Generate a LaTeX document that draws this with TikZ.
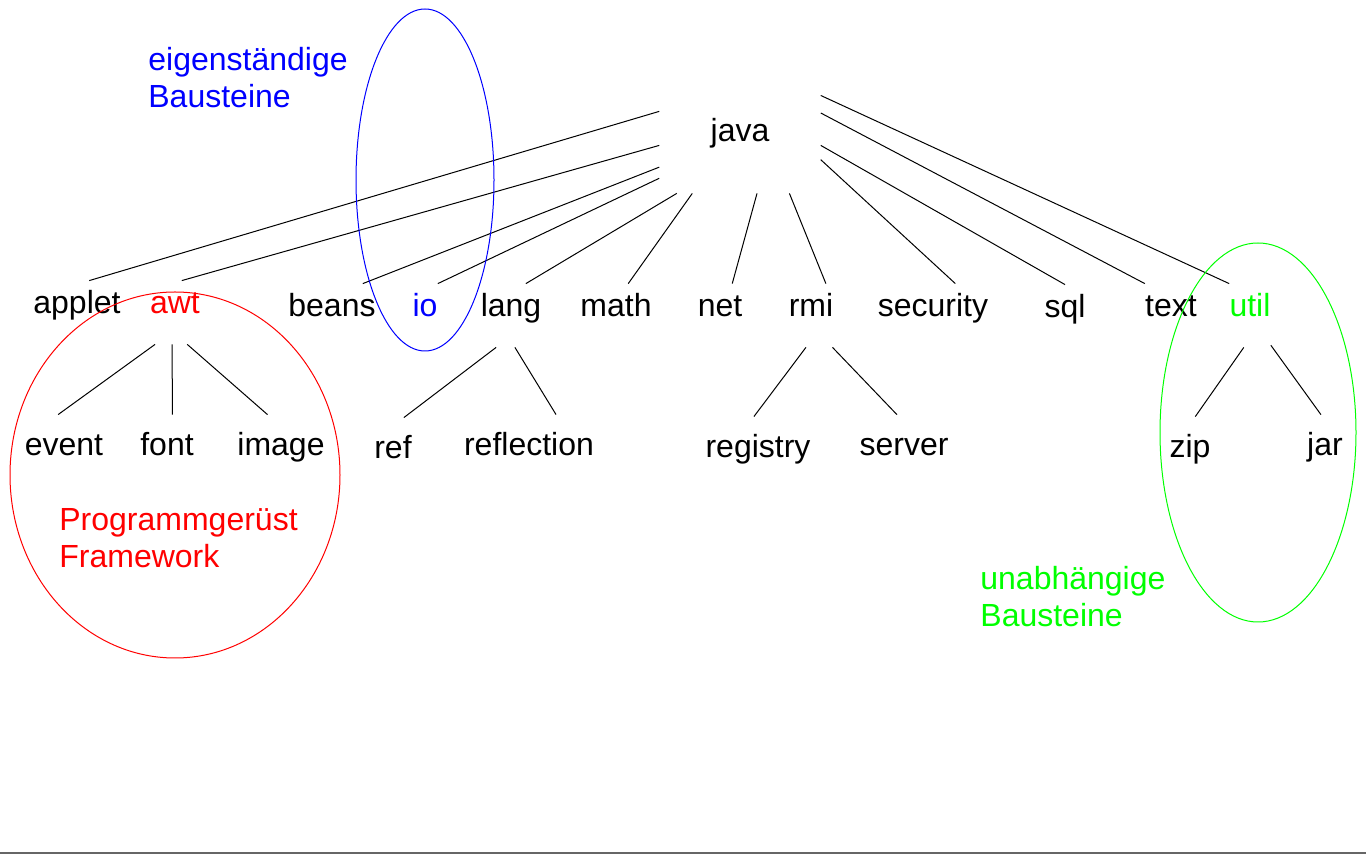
\documentclass[tikz,border=0pt]{standalone}
\usepackage{fontspec}
\setmainfont{Liberation Sans}
\usepackage{xcolor}
\definecolor{Own}{HTML}{0000FF}
\definecolor{Frame}{HTML}{FF0000}
\definecolor{Indep}{HTML}{00FF00}
\definecolor{Rule}{HTML}{666666}
\usetikzlibrary{positioning}
\tikzset{
  pkg/.style={inner sep=0pt,anchor=base,text height=16.5pt,text depth=15pt,
    font=\fontsize{16}{18.5}\selectfont},
  subpkg/.style={pkg,text height=20.5pt,text depth=12.5pt},
  root/.style={pkg,text height=23.5pt,text depth=25.5pt,inner xsep=25.5pt},
  tie/.style={draw=black,line width=0.5pt},
  hull/.style={line width=0.5pt},
  tag/.style={inner sep=0pt,anchor=base west,align=left,
    font=\fontsize{16}{18.5}\selectfont}
}

\begin{document}
\begin{tikzpicture}[x=0.5pt,y=-0.5pt]
  \useasboundingbox (0,0) rectangle (1366,854);
  \node[root] (java) at (740,142) {java};
  % first level
  \node[pkg] (applet) at (77,314) {applet};
  \node[pkg,text=Frame] (awt) at (175,314) {awt};
  \node[pkg] (beans) at (332,317) {beans};
  \node[pkg,text=Own] (io) at (425,317) {io};
  \node[pkg] (lang) at (511,317) {lang};
  \node[pkg] (math) at (616,317) {math};
  \node[pkg] (net) at (720,317) {net};
  \node[pkg] (rmi) at (811,317) {rmi};
  \node[pkg] (security) at (933,317) {security};
  \node[pkg] (sql) at (1065,318) {sql};
  \node[pkg] (txt) at (1171,317) {text};
  \node[pkg,text=Indep] (util) at (1250,317) {util};
  % second level
  \node[subpkg] (event) at (64,456) {event};
  \node[subpkg] (font) at (167,456) {font};
  \node[subpkg] (image) at (281,456) {image};
  \node[subpkg] (ref) at (393,459) {ref};
  \node[subpkg] (reflection) at (529,456) {reflection};
  \node[subpkg] (registry) at (758,458) {registry};
  \node[subpkg] (server) at (904,456) {server};
  \node[subpkg] (zip) at (1190,458) {zip};
  \node[subpkg] (jar) at (1325,456) {jar};
  % connectors
  \foreach \a/\n/\b in {158/applet/69, 181/awt/78, 196/beans/46,
      203/io/north east, 218/lang/65, 226/math/69, 289/net/69, 315/rmi/65,
      349/security/55, 359/sql/north, 21/txt/north west, 31/util/north west}
    \draw[tie] (java.\a) -- (\n.\b);
  \foreach \p/\a/\n/\b in {awt/238/event/100, awt/265/font/81, awt/291/image/112,
      lang/245/ref/72, lang/277/reflection/51, rmi/261/registry/97,
      rmi/304/server/102, util/259/zip/81, util/305/jar/97}
    \draw[tie] (\p.\a) -- (\n.\b);
  % groups
  \draw[hull,Own] (425,180) ellipse [x radius=34.5pt, y radius=85.5pt];
  \draw[hull,Frame] (175,475) ellipse [x radius=82.5pt, y radius=91.5pt];
  \draw[hull,Indep] (1258,432.5) ellipse [x radius=49pt, y radius=94.75pt];
  \node[tag,text=Own] (ownlbl) at (148,108) {eigenständige\\Bausteine};
  \node[tag,text=Frame] (framelbl) at (59,568) {Programmgerüst\\Framework};
  \node[tag,text=Indep] (indeplbl) at (980,627) {unabhängige\\Bausteine};
  \draw[Rule,line width=1pt] (0,853) -- (1366,853);
\end{tikzpicture}
\end{document}
